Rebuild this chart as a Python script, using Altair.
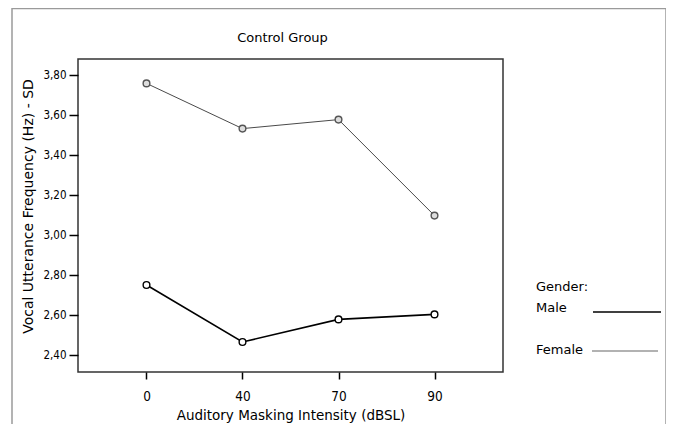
import altair as alt
import pandas as pd

# ---- data ----
intensity = ["0", "40", "70", "90"]
male = [2.750, 2.465, 2.578, 2.603]
female = [3.758, 3.532, 3.577, 3.097]
genders = ["Male", "Female"]
y_ticks = [2.4, 2.6, 2.8, 3.0, 3.2, 3.4, 3.6, 3.8]
line_colors = ["#000000", "#4a4a4a"]
legend_colors = ["#000000", "#999999"]

rows = []
for g, vals in zip(genders, [male, female]):
    for i, v in zip(intensity, vals):
        rows.append({"Intensity": i, "Value": v, "Gender": g})
df = pd.DataFrame(rows)

FONT = "DejaVu Sans"
NARROW = "Liberation Sans Narrow, DejaVu Sans Condensed, Arial Narrow, sans-serif"

x_enc = alt.X(
    "Intensity:O",
    sort=intensity,
    scale=alt.Scale(type="point", padding=0.7135),
    axis=alt.Axis(
        title="Auditory Masking Intensity (dBSL)",
        labelAngle=0, domain=False, grid=False,
        tickSize=7, tickWidth=1.5, tickColor="#000",
        labelFont=NARROW, labelFontSize=13.5, labelColor="#000", labelPadding=10,
        titleFont=FONT, titleFontSize=13.5, titleFontWeight="normal", titleColor="#000",
        titleY=43, titleBaseline="middle",
    ),
)
y_enc = alt.Y(
    "Value:Q",
    scale=alt.Scale(domain=[2.315, 3.88], nice=False, zero=False),
    axis=alt.Axis(
        title="Vocal Utterance Frequency (Hz) - SD",
        values=y_ticks,
        labelExpr="replace(format(datum.value, '.2f'), '.', ',')",
        domain=False, grid=False,
        tickSize=9, tickWidth=1.5, tickColor="#000",
        labelFont=NARROW, labelFontSize=11.5, labelColor="#000", labelPadding=3,
        titleFont=FONT, titleFontSize=14, titleFontWeight="normal", titleColor="#000",
        titleX=-45.5, titleY=147, titleBaseline="alphabetic",
    ),
)

lines = alt.Chart(df).mark_line().encode(
    x=x_enc,
    y=y_enc,
    color=alt.Color("Gender:N", scale=alt.Scale(domain=genders, range=line_colors), legend=None),
    strokeWidth=alt.StrokeWidth(
        "Gender:N", scale=alt.Scale(domain=genders, range=[1.6, 1.0]), legend=None
    ),
)

points = alt.Chart(df).mark_point(shape="circle", size=45, strokeWidth=1.4, opacity=1, fillOpacity=1).encode(
    x=x_enc,
    y=y_enc,
    stroke=alt.Stroke("Gender:N", scale=alt.Scale(domain=genders, range=["#000000", "#555555"]), legend=None),
    fill=alt.Fill("Gender:N", scale=alt.Scale(domain=genders, range=["#ffffff", "#dddddd"]), legend=None),
)

# outer frame of the figure
border = alt.Chart(alt.Data(values=[{"a": 1}])).mark_rect(
    fillOpacity=0, stroke="#9a9a9a", strokeWidth=1.5
).encode(
    x=alt.value(-66), x2=alt.value(588), y=alt.value(-50.5), y2=alt.value(420)
)

# chart title as text (the outer frame would push a regular title off the page)
title = alt.Chart(alt.Data(values=[{"t": "Control Group"}])).mark_text(
    align="center", baseline="middle", font=FONT, fontSize=13, color="#000"
).encode(text="t:N", x=alt.value(204.5), y=alt.value(-21))

# legend (labels to the left of the line keys, as in the reference)
legend_title = alt.Chart(alt.Data(values=[{"t": "Gender:"}])).mark_text(
    align="left", baseline="middle", font=FONT, fontSize=13, color="#000"
).encode(text="t:N", x=alt.value(458), y=alt.value(228))

legend_parts = []
for g, col, ty, ly, x1, x2 in [
    ("Male", legend_colors[0], 249, 253, 515, 583),
    ("Female", legend_colors[1], 291, 292, 514, 580),
]:
    ldf = pd.DataFrame({"Gender": [g]})
    legend_parts.append(
        alt.Chart(ldf).mark_text(
            align="left", baseline="middle", font=FONT, fontSize=13, color="#000"
        ).encode(text="Gender:N", x=alt.value(458), y=alt.value(ty))
    )
    legend_parts.append(
        alt.Chart(ldf).mark_rule(strokeWidth=1.5, color=col).encode(
            x=alt.value(x1), x2=alt.value(x2), y=alt.value(ly),
        )
    )

chart = alt.layer(border, lines, points, title, legend_title, *legend_parts).properties(
    width=425,
    height=313,
    padding={"left": 70, "top": 51, "right": 163, "bottom": 52},
    autosize=alt.AutoSizeParams(type="none"),
).configure(
    background="white", font=FONT
).configure_view(
    stroke="#333333", strokeWidth=1.5
)

chart.save("out.html", embed_options={"renderer": "svg", "actions": False})
